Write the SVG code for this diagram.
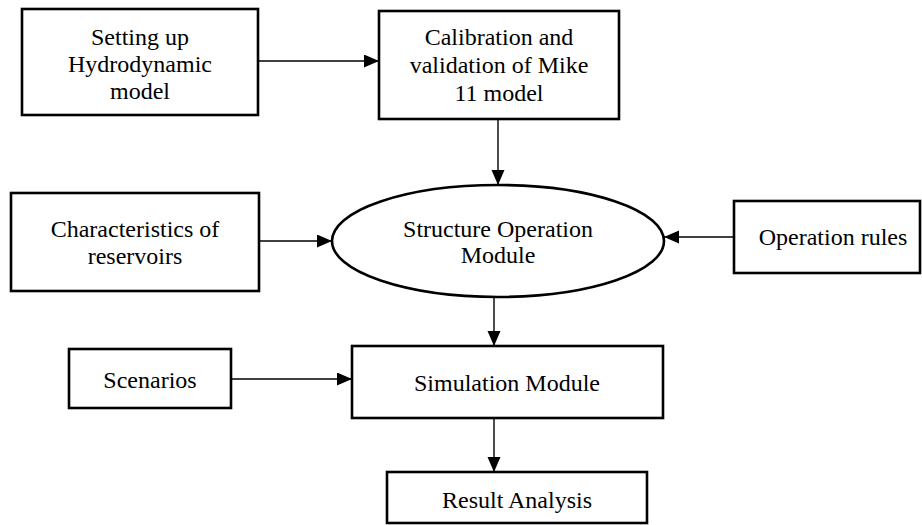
<svg xmlns="http://www.w3.org/2000/svg" width="922" height="525" viewBox="0 0 922 525">
  <style>
    .box { fill: #ffffff; stroke: #000000; stroke-width: 2.6; }
    .link { fill: none; stroke: #000000; stroke-width: 1.4; }
    text { font-family: "Liberation Serif", "Times New Roman", serif; font-size: 24px; fill: #000000; text-anchor: middle; }
  </style>
  <defs>
    <marker id="arrow" markerUnits="userSpaceOnUse" markerWidth="16" markerHeight="14" refX="15" refY="6.5" orient="auto">
      <path d="M0,0 L15,6.5 L0,13 Z" fill="#000000"/>
    </marker>
  </defs>
  <rect width="922" height="525" fill="#ffffff"/>

  <g id="connectors">
    <line class="link" x1="258" y1="61" x2="379" y2="61" marker-end="url(#arrow)"/>
    <line class="link" x1="498" y1="119" x2="498" y2="185" marker-end="url(#arrow)"/>
    <line class="link" x1="259" y1="241" x2="332" y2="241" marker-end="url(#arrow)"/>
    <line class="link" x1="734" y1="237" x2="664" y2="237" marker-end="url(#arrow)"/>
    <line class="link" x1="494" y1="297" x2="494" y2="346" marker-end="url(#arrow)"/>
    <line class="link" x1="231" y1="379" x2="352" y2="379" marker-end="url(#arrow)"/>
    <line class="link" x1="494" y1="418" x2="494" y2="472" marker-end="url(#arrow)"/>
  </g>

  <g id="setup">
    <rect class="box" x="22" y="9" width="236" height="106"/>
    <text x="140" y="45">Setting up</text>
    <text x="140" y="72">Hydrodynamic</text>
    <text x="140" y="99">model</text>
  </g>

  <g id="calibration">
    <rect class="box" x="379" y="11" width="240" height="108"/>
    <text x="499" y="45">Calibration and</text>
    <text x="499" y="73">validation of Mike</text>
    <text x="499" y="101">11 model</text>
  </g>

  <g id="characteristics">
    <rect class="box" x="11" y="193" width="248" height="98"/>
    <text x="135" y="237">Characteristics of</text>
    <text x="135" y="264">reservoirs</text>
  </g>

  <g id="structure-operation">
    <ellipse class="box" cx="498" cy="241" rx="166" ry="56"/>
    <text x="498" y="237">Structure Operation</text>
    <text x="498" y="263">Module</text>
  </g>

  <g id="operation-rules">
    <rect class="box" x="734" y="201" width="186" height="72"/>
    <text x="833" y="245">Operation rules</text>
  </g>

  <g id="scenarios">
    <rect class="box" x="69" y="349" width="162" height="59"/>
    <text x="150" y="388">Scenarios</text>
  </g>

  <g id="simulation">
    <rect class="box" x="352" y="346" width="311" height="72"/>
    <text x="507" y="391">Simulation Module</text>
  </g>

  <g id="result">
    <rect class="box" x="387" y="472" width="260" height="51"/>
    <text x="517" y="508">Result Analysis</text>
  </g>
</svg>
